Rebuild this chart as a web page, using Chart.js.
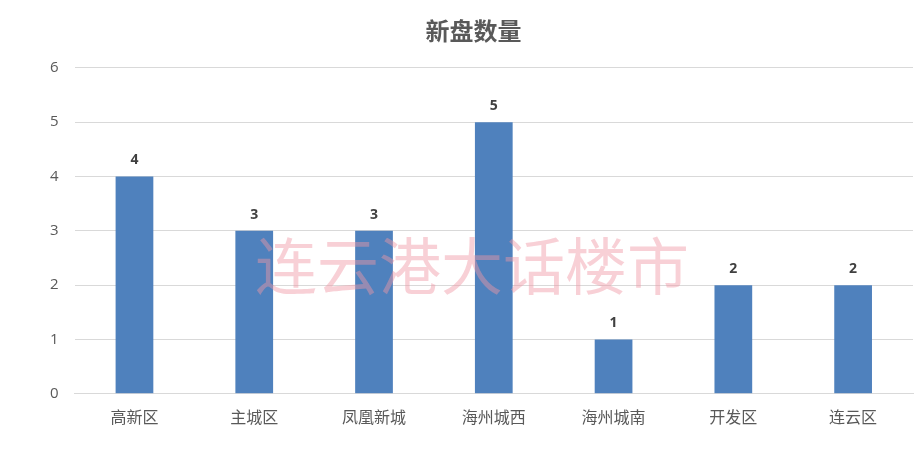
<!DOCTYPE html>
<html><head><meta charset="utf-8">
<script src="https://cdn.jsdelivr.net/npm/chart.js@4"></script>
<style>html,body{margin:0;padding:0;background:#fff}#w{width:923px;height:461px}</style>
</head><body><div id="w"><canvas id="c"></canvas></div>
<script>
const categories = ['高新区','主城区','凤凰新城','海州城西','海州城南','开发区','连云区'];
const counts = [4,3,3,5,1,2,2];
const yTicks = [0,1,2,3,4,5,6];
const title = '新盘数量';
const watermark = '连云港大话楼市';

const labelsPlugin = {
  id:'lbl',
  afterDatasetsDraw(chart){
    const ctx = chart.ctx;
    const meta = chart.getDatasetMeta(0);
    ctx.save();
    ctx.font = 'bold 14px "Open Sans", sans-serif';
    ctx.textAlign = 'center';
    ctx.textBaseline = 'bottom';
    meta.data.forEach((b,i)=>{
      const t = String(counts[i]);
      const w = ctx.measureText(t).width + 8;
      ctx.fillStyle = '#fff';
      ctx.fillRect(b.x - w/2, b.y - 29, w, 20);
      ctx.fillStyle = '#404040';
      ctx.fillText(t, b.x, b.y - 9);
    });
    ctx.font = '62px "Noto Sans CJK SC"';
    ctx.fillStyle = 'rgba(240,150,165,0.45)';
    ctx.textBaseline = 'middle';
    ctx.fillText(watermark, 472, 266);
    ctx.restore();
  }
};

new Chart(document.getElementById('c'), {
  type:'bar',
  data:{labels:categories, datasets:[{data:counts, backgroundColor:'#4f81bd', barPercentage:0.63, categoryPercentage:0.5}]},
  options:{
    responsive:true, maintainAspectRatio:false, animation:false,
    layout:{padding:{left:34,right:10,top:8,bottom:28}},
    plugins:{legend:{display:false}, tooltip:{enabled:false},
      title:{display:true,text:title,color:'#595959',font:{family:'"Noto Sans CJK SC"',size:24,weight:'bold'},padding:{top:8,bottom:23}}},
    scales:{
      x:{grid:{display:false}, border:{color:'#d9d9d9'}, ticks:{color:'#595959',font:{family:'"Noto Sans CJK SC"',size:16},padding:6}},
      y:{min:0,max:6, afterBuildTicks(a){a.ticks=yTicks.map(v=>({value:v}));},
        grid:{color:'#d9d9d9',drawTicks:false}, border:{display:false},
        ticks:{color:'#595959',font:{family:'"Open Sans"',size:15},padding:16}}
    }
  },
  plugins:[labelsPlugin]
});
</script></body></html>
